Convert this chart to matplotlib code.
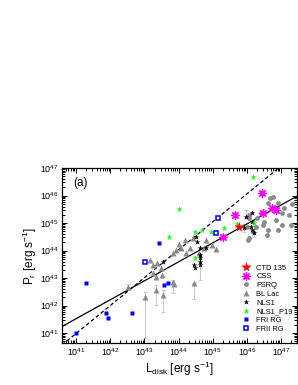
import numpy as np
import matplotlib.pyplot as plt
from matplotlib.ticker import FixedLocator, NullFormatter

# values are log10 of luminosity / power (erg/s)
ctd_x = [45.77]
ctd_y = [44.87]

css_x = [46.43, 45.66, 46.48, 46.74, 46.86, 45.29]
css_y = [46.09, 45.29, 45.36, 45.53, 45.47, 44.51]

fsrq_x = [46.61, 46.75, 46.90, 47.04, 47.24, 46.85, 46.46, 46.31, 46.07, 46.07,
          46.61, 46.90, 47.03, 47.09, 46.41, 46.27, 46.02, 46.17, 46.69, 47.28,
          47.33, 46.50, 46.01, 46.58, 46.06]
fsrq_y = [45.72, 45.96, 45.72, 45.35, 45.29, 45.11, 44.93, 45.17, 45.17, 44.44,
          44.75, 44.75, 44.93, 45.53, 45.35, 44.87, 44.38, 44.68, 45.90, 44.93,
          45.68, 45.05, 44.87, 44.56, 45.29]

bl_x = [43.16, 43.25, 43.38, 43.48, 43.25, 43.52, 43.35, 43.84, 43.94, 44.08,
        44.01, 44.18, 44.42, 44.34, 44.23, 44.59, 44.81, 44.76, 45.10, 44.99,
        43.87, 43.84, 42.52, 43.01, 43.35, 43.55, 44.45]
bl_y = [43.65, 43.47, 43.56, 43.35, 43.17, 43.11, 43.05, 43.93, 44.02, 44.08,
        44.24, 44.38, 44.44, 44.10, 43.93, 43.93, 44.38, 44.08, 44.04, 44.20,
        42.77, 42.87, 42.68, 42.32, 42.56, 42.38, 42.81]
# BL Lacs with error bars (log ends)
blerr_x = [43.84, 42.52, 43.01, 43.35, 43.55, 44.45]
blerr_lo = [42.45, 42.55, 40.82, 42.02, 41.77, 42.23]
blerr_hi = [42.93, 42.78, 42.50, 42.75, 42.56, 42.82]

nls1_x = [43.55, 44.50, 44.53, 44.64, 44.81, 44.45, 44.47, 44.64, 44.64, 44.64,
          44.64, 45.97, 46.16, 46.16, 46.11, 46.16, 46.21, 45.92]
nls1_y = [43.59, 44.50, 44.32, 44.08, 44.08, 43.47, 43.35, 43.84, 43.72, 43.59,
          43.47, 45.23, 45.35, 45.05, 44.87, 44.75, 44.63, 44.81]
# NLS1 error bars (log ends)
nerr_x = [44.64, 45.97, 46.21, 45.92]
nerr_lo = [42.93, 45.17, 44.50, 44.66]
nerr_hi = [43.90, 45.47, 45.10, 44.98]

p19_x = [46.17, 44.00, 43.71, 44.47, 44.69, 44.94, 45.32, 44.47, 45.70, 46.22]
p19_y = [46.68, 45.51, 44.50, 44.68, 44.75, 44.68, 44.83, 43.74, 44.96, 44.99]

fr1_x = [43.43, 43.57, 43.69, 41.28, 40.99, 41.87, 41.94, 42.63]
fr1_y = [44.26, 42.75, 42.81, 42.81, 40.99, 41.74, 41.56, 41.72]

fr2_x = [43.03, 45.15, 45.11]
fr2_y = [43.58, 45.17, 44.64]

# fitted relations: log P = slope * log L + icpt
fit_slope, fit_icpt = 0.689, 13.273
eq_slope, eq_icpt = 1.015, -0.631

# tick exponents
tick_exp = [41, 42, 43, 44, 45, 46, 47]

plt.rcParams.update({'font.family': ['Liberation Sans', 'DejaVu Sans'],
                     'mathtext.default': 'regular'})

fig = plt.figure(figsize=(2.98, 3.85), dpi=100)
ax = fig.add_axes([0.208, 0.109, 0.789, 0.4545])

grey = '#8a8a8a'
ebar = '#c8c8c8'


def vbars(xs, lo, hi):
    xs = 10**np.array(xs)
    lo = 10**np.array(lo)
    hi = 10**np.array(hi)
    ax.vlines(xs, lo, hi, color=ebar, lw=0.8, zorder=1)
    ax.plot(xs, lo, '_', color=ebar, ms=3, mew=0.8, zorder=1)
    ax.plot(xs, hi, '_', color=ebar, ms=3, mew=0.8, zorder=1)


lx = np.array([40.59, 47.47])
ax.plot(10**lx, 10**(fit_slope * lx + fit_icpt), '-', color='black', lw=0.9, zorder=2)
ax.plot(10**lx, 10**(eq_slope * lx + eq_icpt), '--', color='black', lw=0.9,
        dashes=(3, 2), zorder=2)

vbars(blerr_x, blerr_lo, blerr_hi)
vbars(nerr_x, nerr_lo, nerr_hi)

ax.plot(10**np.array(fsrq_x), 10**np.array(fsrq_y), 'o', color=grey, ms=3.5,
        mec='none', label='FSRQ', zorder=3)
ax.plot(10**np.array(bl_x), 10**np.array(bl_y), '^', color=grey, ms=3.8, mec='none',
        label='BL Lac', zorder=3)
ax.plot(10**np.array(nls1_x), 10**np.array(nls1_y), '*', color='black', ms=4,
        mec='none', label='NLS1', zorder=4)
ax.plot(10**np.array(p19_x), 10**np.array(p19_y), '*', color='#00ff00', ms=4.5,
        mec='none', label='NLS1_P19', zorder=4)
ax.plot(10**np.array(fr1_x), 10**np.array(fr1_y), 's', color='#0000ff', ms=3.2,
        mec='none', label='FRI RG', zorder=4)
ax.plot(10**np.array(fr2_x), 10**np.array(fr2_y), 's', mfc='white', mec='#0000ff',
        mew=1.1, ms=3.0, label='FRII RG', zorder=4)
ax.plot(10**np.array(css_x), 10**np.array(css_y), linestyle='none', marker=(8, 2, 0),
        color='#ff00ff', mec='#ff00ff', ms=6, mew=0.9, label='CSS', zorder=5)
ax.plot(10**np.array(ctd_x), 10**np.array(ctd_y), '*', color='#ff0000', ms=8,
        mec='none', label='CTD 135', zorder=6)

ax.set_xscale('log')
ax.set_yscale('log')
ax.set_xlim(10**40.59, 10**47.47)
ax.set_ylim(10**40.64, 1e47)
major = [10.0**e for e in tick_exp]
minor = [m * 10.0**e for e in [40] + tick_exp for m in range(2, 10)]
for a, lim in ((ax.xaxis, (10**40.59, 10**47.47)), (ax.yaxis, (10**40.64, 1e47))):
    a.set_major_locator(FixedLocator(major))
    a.set_minor_locator(FixedLocator([v for v in minor if lim[0] < v < lim[1]]))
    a.set_minor_formatter(NullFormatter())
ax.set_xticklabels(['$10^{%d}$' % e for e in tick_exp])
ax.set_yticklabels(['$10^{%d}$' % e for e in tick_exp])
ax.tick_params(which='both', direction='in', top=True, right=True, labelsize=6.4, width=0.7)
ax.tick_params(which='major', length=3.5, pad=2.5)
ax.tick_params(which='minor', length=2)
for s in ax.spines.values():
    s.set_linewidth(0.9)

ax.set_xlabel('L$_{disk}$ [erg s$^{-1}$]', fontsize=8.5, va='center')
ax.set_ylabel('P$_r$ [erg s$^{-1}$]', fontsize=8.5, va='center')
ax.xaxis.set_label_coords(0.5, -0.148)
ax.yaxis.set_label_coords(-0.135, 0.5)
ax.text(0.047, 0.914, '(a)', transform=ax.transAxes, fontsize=8.5, va='center')

h, l = ax.get_legend_handles_labels()
order = ['CTD 135', 'CSS', 'FSRQ', 'BL Lac', 'NLS1', 'NLS1_P19', 'FRI RG', 'FRII RG']
hd = dict(zip(l, h))
ax.legend([hd[k] for k in order], order, loc='upper left', bbox_to_anchor=(0.765, 0.45),
          frameon=False, fontsize=5.4, handlelength=1.2, handletextpad=0.75,
          labelspacing=0.2, borderpad=0, borderaxespad=0)

plt.savefig('out.png', dpi=100)
